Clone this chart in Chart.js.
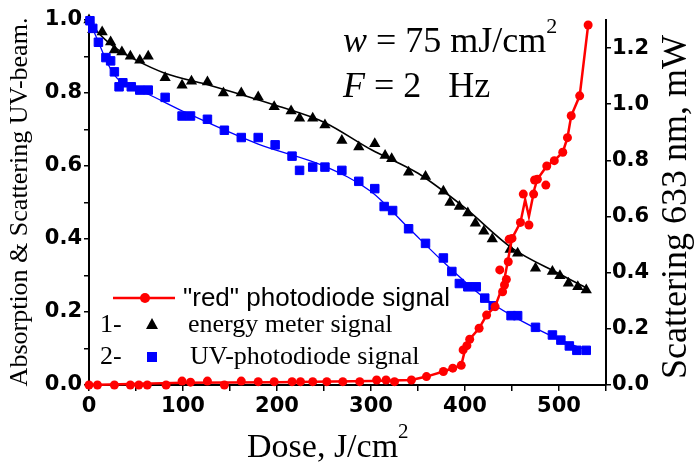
<!DOCTYPE html>
<html>
<head>
<meta charset="utf-8">
<script src="https://cdn.jsdelivr.net/npm/chart.js@4.4.0/dist/chart.umd.min.js"></script>
<style>
body { margin: 0; background: #fff; }
#wrap { width: 694px; height: 462px; }
</style>
</head>
<body>
<div id="wrap"><canvas id="dose"></canvas></div>
<script>
// energy meter signal (1-), left axis
const blackX = [0, 4, 14, 23, 27, 35, 44, 54, 63, 81, 99, 109, 126, 143, 162, 180, 197, 215, 224, 238, 251, 269, 287, 304, 315, 322, 340, 358, 377, 384, 394, 403, 411, 420, 429, 448, 456, 475, 493, 501, 510, 520, 529];
const blackY = [1.0, 0.973, 0.967, 0.94, 0.918, 0.912, 0.901, 0.89, 0.901, 0.842, 0.821, 0.832, 0.83, 0.80, 0.80, 0.789, 0.762, 0.751, 0.731, 0.731, 0.712, 0.670, 0.652, 0.661, 0.629, 0.62, 0.583, 0.571, 0.531, 0.50, 0.489, 0.471, 0.443, 0.421, 0.40, 0.371, 0.361, 0.32, 0.311, 0.299, 0.279, 0.269, 0.26];
const blackFitX = [0, 10, 20, 30, 50, 80, 130, 200, 250, 300, 350, 400, 450, 500, 530];
const blackFitY = [1.0, 0.965, 0.94, 0.92, 0.89, 0.855, 0.82, 0.765, 0.72, 0.645, 0.58, 0.485, 0.375, 0.305, 0.265];

// UV-photodiode signal (2-), left axis
const blueX = [1, 4, 10, 18, 23, 27, 32, 36, 45, 54, 63, 81, 99, 108, 126, 144, 162, 180, 198, 216, 224, 238, 251, 269, 287, 304, 314, 323, 340, 358, 377, 386, 394, 403, 412, 421, 430, 449, 456, 475, 493, 502, 511, 519, 529];
const blueY = [0.998, 0.977, 0.939, 0.897, 0.888, 0.858, 0.817, 0.828, 0.817, 0.808, 0.808, 0.788, 0.737, 0.737, 0.728, 0.698, 0.678, 0.678, 0.658, 0.627, 0.588, 0.597, 0.597, 0.588, 0.558, 0.538, 0.489, 0.478, 0.428, 0.388, 0.348, 0.311, 0.278, 0.269, 0.269, 0.238, 0.217, 0.19, 0.19, 0.158, 0.137, 0.123, 0.107, 0.095, 0.095];
const blueFitX = [0, 10, 20, 30, 45, 60, 100, 180, 250, 300, 340, 380, 420, 450, 500, 530];
const blueFitY = [1.0, 0.94, 0.88, 0.84, 0.815, 0.80, 0.75, 0.66, 0.60, 0.53, 0.43, 0.33, 0.24, 0.19, 0.125, 0.095];

// "red" photodiode signal, right axis (mW)
const redX = [0, 9, 27, 44, 53, 62, 82, 99, 108, 126, 144, 162, 180, 197, 216, 225, 238, 253, 270, 288, 306, 316, 325, 343, 359, 377, 387, 396, 398, 402, 405, 415, 423, 432, 437, 440, 442, 444, 446, 447, 450, 459, 462, 468, 473, 474, 477, 486, 487, 495, 504, 509, 513, 522, 531];
const redY = [0, 0, 0, 0, 0, 0, 0, 0.014, 0.01, 0.014, 0, 0.014, 0.012, 0.012, 0.012, 0.012, 0.012, 0.012, 0.012, 0.012, 0.018, 0.018, 0.012, 0.018, 0.03, 0.048, 0.06, 0.07, 0.125, 0.14, 0.163, 0.202, 0.249, 0.279, 0.41, 0.332, 0.356, 0.376, 0.439, 0.519, 0.522, 0.579, 0.68, 0.57, 0.68, 0.73, 0.733, 0.712, 0.78, 0.799, 0.829, 0.881, 0.959, 1.03, 1.282];
const redLineX = [0, 100, 200, 300, 343, 359, 377, 396, 400, 405, 415, 423, 432, 441, 446, 450, 459, 464, 468, 474, 477, 487, 495, 504, 509, 513, 522, 531];
const redLineY = [0, 0.008, 0.01, 0.014, 0.018, 0.03, 0.048, 0.07, 0.125, 0.163, 0.202, 0.249, 0.279, 0.36, 0.45, 0.522, 0.579, 0.66, 0.6, 0.70, 0.733, 0.78, 0.799, 0.829, 0.881, 0.959, 1.03, 1.282];

function pts(xs, ys) {
    return xs.map((x, i) => ({x: x, y: ys[i]}));
}

const serif = '"Liberation Serif", "Times New Roman", serif';
const sans = '"Liberation Sans", Arial, sans-serif';

// draw a row of text pieces: [text, font, raise]
function runs(c, x, y, parts) {
    for (const p of parts) {
        c.font = p[1];
        c.fillText(p[0], x, y - (p[2] || 0));
        x += c.measureText(p[0]).width;
    }
}

const textPlugin = {
    id: 'texts',
    afterDraw(chart) {
        const c = chart.ctx;
        c.save();
        c.fillStyle = '#000';
        c.textBaseline = 'alphabetic';
        c.textAlign = 'left';

        // axis titles
        c.save();
        c.translate(27, 202);
        c.rotate(-Math.PI / 2);
        c.textAlign = 'center';
        c.font = '26px ' + serif;
        c.fillText('Absorption & Scattering UV-beam.', 0, 0);
        c.restore();

        c.save();
        c.translate(686, 207);
        c.rotate(-Math.PI / 2);
        c.textAlign = 'center';
        c.font = '36px ' + serif;
        c.fillText('Scattering 633 nm, mW', 0, 0);
        c.restore();

        runs(c, 247, 457, [['Dose, J/cm', '34px ' + serif], ['2', '21px ' + serif, 19]]);

        // conditions
        runs(c, 343, 52, [['w', 'italic 36px ' + serif], [' = 75 mJ/cm', '36px ' + serif], ['2', '22px ' + serif, 19]]);
        runs(c, 343, 97, [['F', 'italic 36px ' + serif], [' = 2   Hz', '36px ' + serif]]);

        // legend
        c.strokeStyle = '#ff0000';
        c.fillStyle = '#ff0000';
        c.lineWidth = 2.5;
        c.beginPath();
        c.moveTo(113, 298);
        c.lineTo(175, 298);
        c.stroke();
        c.beginPath();
        c.arc(145, 298, 5, 0, Math.PI * 2);
        c.fill();

        c.fillStyle = '#000';
        c.font = '26px ' + sans;
        c.fillText('"red" photodiode signal', 183, 306);

        c.font = '26px ' + serif;
        c.fillText('1-', 100, 332);
        c.fillText('energy meter signal', 188, 332);
        c.beginPath();
        c.moveTo(152, 318);
        c.lineTo(158, 329);
        c.lineTo(146, 329);
        c.closePath();
        c.fill();

        c.fillText('2-', 100, 364);
        c.fillText('UV-photodiode signal', 190, 364);
        c.fillStyle = '#0000ff';
        c.fillRect(147, 352, 10, 10);

        c.restore();
    }
};

const tickFont = {family: '"DejaVu Sans", sans-serif', size: 21, weight: 'bold'};

new Chart(document.getElementById('dose'), {
    type: 'scatter',
    plugins: [textPlugin],
    data: {
        datasets: [{
            data: pts(redX, redY),
            yAxisID: 'y2',
            order: 0,
            pointStyle: 'circle',
            pointRadius: 4.5,
            backgroundColor: '#ff0000',
            borderColor: '#ff0000',
            borderWidth: 0,
            showLine: false,
            clip: false
        }, {
            data: pts(redLineX, redLineY),
            yAxisID: 'y2',
            order: 1,
            pointRadius: 0,
            borderColor: '#ff0000',
            borderWidth: 2.5,
            showLine: true,
            tension: 0,
            clip: false
        }, {
            data: pts(blueX, blueY),
            yAxisID: 'y',
            order: 2,
            pointStyle: 'rect',
            pointRadius: 6,
            backgroundColor: '#0000ff',
            borderColor: '#0000ff',
            borderWidth: 1,
            showLine: false,
            clip: false
        }, {
            data: pts(blackX, blackY),
            yAxisID: 'y',
            order: 3,
            pointStyle: 'triangle',
            pointRadius: 6.5,
            backgroundColor: '#000',
            borderColor: '#000',
            borderWidth: 0,
            showLine: false,
            clip: false
        }, {
            data: pts(blueFitX, blueFitY),
            yAxisID: 'y',
            order: 4,
            pointRadius: 0,
            borderColor: '#0000ff',
            borderWidth: 1.3,
            showLine: true,
            cubicInterpolationMode: 'monotone'
        }, {
            data: pts(blackFitX, blackFitY),
            yAxisID: 'y',
            order: 5,
            pointRadius: 0,
            borderColor: '#000',
            borderWidth: 1.6,
            showLine: true,
            cubicInterpolationMode: 'monotone'
        }]
    },
    options: {
        responsive: true,
        maintainAspectRatio: false,
        animation: false,
        layout: {padding: {top: 20, left: 0, right: 0, bottom: 0}},
        plugins: {
            legend: {display: false},
            tooltip: {enabled: false}
        },
        scales: {
            x: {
                type: 'linear',
                min: 0,
                max: 550,
                afterFit: (s) => { s.height = 77; },
                ticks: {
                    stepSize: 50,
                    color: '#000',
                    font: tickFont,
                    padding: 3,
                    maxRotation: 0,
                    callback: (v) => (v % 100 === 0 ? String(v) : '')
                },
                grid: {drawOnChartArea: false, drawTicks: true, tickLength: 6, color: '#000', lineWidth: 1.5},
                border: {display: true, color: '#000', width: 2}
            },
            y: {
                type: 'linear',
                position: 'left',
                min: 0,
                max: 1.0,
                afterFit: (s) => { s.width = 89; },
                ticks: {
                    stepSize: 0.1,
                    color: '#000',
                    font: tickFont,
                    padding: 2,
                    callback: (v, i) => (i % 2 === 0 ? v.toFixed(1) : '')
                },
                grid: {drawOnChartArea: false, drawTicks: true, tickLength: 5, color: '#000', lineWidth: 1.5},
                border: {display: true, color: '#000', width: 2}
            },
            y2: {
                type: 'linear',
                position: 'right',
                min: 0,
                max: 1.3,
                afterFit: (s) => { s.width = 88; },
                ticks: {
                    stepSize: 0.1,
                    color: '#000',
                    font: tickFont,
                    padding: 1,
                    callback: (v, i) => (i % 2 === 0 ? v.toFixed(1) : '')
                },
                grid: {drawOnChartArea: false, drawTicks: true, tickLength: 5, color: '#000', lineWidth: 1.5},
                border: {display: true, color: '#000', width: 2}
            }
        }
    }
});
</script>
</body>
</html>
